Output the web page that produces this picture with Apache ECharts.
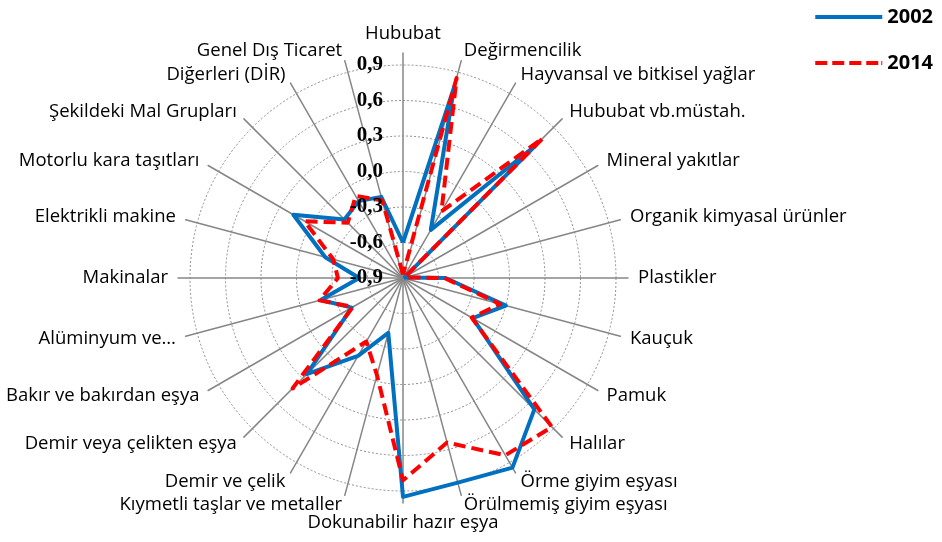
<!DOCTYPE html>
<html>
<head>
<meta charset="utf-8">
<script src="https://cdn.jsdelivr.net/npm/echarts@6/dist/echarts.min.js"></script>
<style>
html,body{margin:0;padding:0;background:#fff;}
#radar{width:942px;height:542px;}
</style>
</head>
<body>
<div id="radar"></div>
<script>
// categories in clockwise order starting at the top
var categories = ['Hububat', 'Değirmencilik', 'Hayvansal ve bitkisel yağlar', 'Hububat vb.müstah.',
  'Mineral yakıtlar', 'Organik kimyasal ürünler', 'Plastikler', 'Kauçuk', 'Pamuk', 'Halılar',
  'Örme giyim eşyası', 'Örülmemiş giyim eşyası', 'Dokunabilir hazır eşya', 'Kıymetli taşlar ve metaller',
  'Demir ve çelik', 'Demir veya çelikten eşya', 'Bakır ve bakırdan eşya', 'Alüminyum ve…',
  'Makinalar', 'Elektrikli makine', 'Motorlu kara taşıtları', 'Şekildeki Mal Grupları',
  'Diğerleri (DİR)', 'Genel Dış Ticaret'];

var values2002 = [-0.60, 0.77, -0.43, 0.68, -0.88, -0.88, -0.54, 0.00, -0.22, 0.67,
  0.95, 0.89, 0.95, -0.42, -0.14, 0.25, -0.40, -0.18, -0.53, -0.22, 0.17, -0.20, -0.15, -0.19];

var values2014 = [-0.87, 0.85, -0.25, 0.77, -0.88, -0.88, -0.55, -0.05, -0.23, 0.88,
  0.83, 0.54, 0.81, -0.05, -0.28, 0.42, -0.41, -0.17, -0.35, -0.29, 0.06, -0.24, -0.10, -0.22];

var seriesNames = ['2002', '2014'];
var axisMin = -0.9, axisMax = 0.9, ringCount = 6;

// radar lays indicators out counterclockwise, so keep the first one and reverse the rest
function ccw(arr) {
  return [arr[0]].concat(arr.slice(1).reverse());
}

var chart = echarts.init(document.getElementById('radar'));

function indicators(max, withLabel) {
  return ccw(categories).map(function (name, i) {
    return { name: name, min: axisMin, max: max, axisLabel: { show: withLabel && i === 0 } };
  });
}

var solidIcon = 'path://M0,0H67V4H0Z';
var dashIcon = 'path://M0,0H12V4H0Z M17,0H29V4H17Z M34,0H46V4H34Z M51,0H63V4H51Z M66,0H67V4H66Z';

var base = {
  center: [403, 278],
  shape: 'circle',
  axisTick: { show: false },
  splitArea: { show: false }
};

chart.setOption({
  animation: false,
  legend: {
    orient: 'vertical',
    right: 4,
    top: 0,
    itemWidth: 67,
    itemHeight: 4,
    itemGap: 22,
    textStyle: { fontFamily: 'Open Sans', fontWeight: 'bold', fontSize: 20, color: '#000', lineHeight: 24 },
    data: [
      { name: seriesNames[0], icon: solidIcon },
      { name: seriesNames[1], icon: dashIcon }
    ]
  },
  radar: [
    // spokes and category names
    Object.assign({}, base, {
      radius: 225,
      indicator: indicators(1.0, false),
      splitNumber: 5,
      axisNameGap: 10,
      axisName: { color: '#000', fontFamily: 'Open Sans', fontSize: 18.5 },
      axisLine: { lineStyle: { color: '#868686', width: 1.5 } },
      splitLine: { show: false },
      axisLabel: { show: false }
    }),
    // dotted rings, holds the data
    Object.assign({}, base, {
      radius: 213,
      indicator: indicators(axisMax, false),
      splitNumber: ringCount,
      axisName: { show: false },
      axisLine: { show: false },
      splitLine: { lineStyle: { color: '#8c8c8c', width: 1, type: [2, 2] } },
      axisLabel: { show: false }
    }),
    // value labels drawn above the lines
    Object.assign({}, base, {
      z: 10,
      radius: 213,
      indicator: indicators(axisMax, true),
      splitNumber: ringCount,
      axisName: { show: false },
      axisLine: { show: false },
      splitLine: { show: false },
      axisLabel: {
        margin: 20,
        color: '#000',
        fontFamily: 'Liberation Serif',
        fontWeight: 'bold',
        fontSize: 21,
        formatter: function (v) {
          var s = (+v).toFixed(1);
          if (s === '-0.0') s = '0.0';
          return s.replace('.', ',');
        }
      }
    })
  ],
  series: [{
    type: 'radar',
    radarIndex: 1,
    symbol: 'none',
    data: [{
      name: seriesNames[0],
      value: ccw(values2002),
      itemStyle: { color: '#0070C0' },
      lineStyle: { color: '#0070C0', width: 4, join: 'round' }
    }]
  }, {
    type: 'radar',
    radarIndex: 1,
    symbol: 'none',
    data: [{
      name: seriesNames[1],
      value: ccw(values2014),
      itemStyle: { color: '#FF0000' },
      lineStyle: { color: '#FF0000', width: 4, type: [12, 6], join: 'round' }
    }]
  }]
});
</script>
</body>
</html>
